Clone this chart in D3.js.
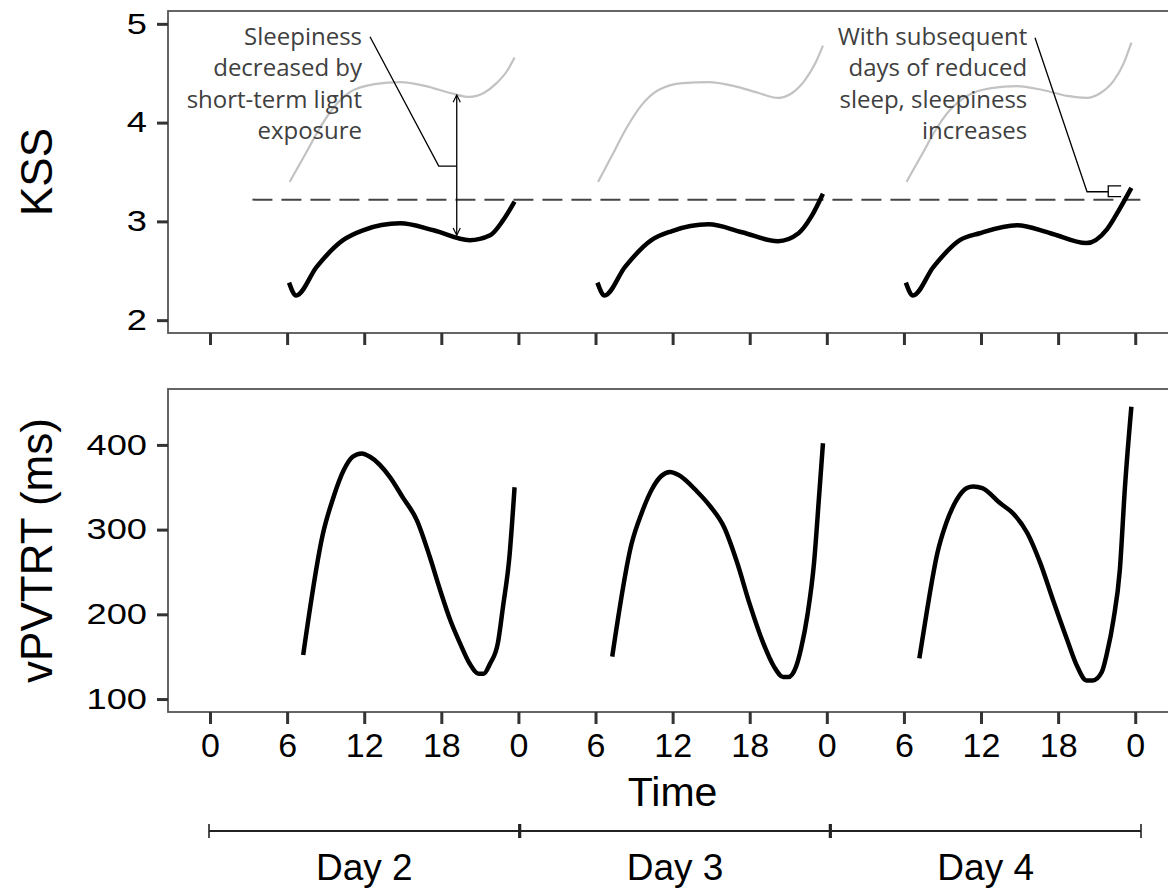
<!DOCTYPE html>
<html>
<head>
<meta charset="utf-8">
<script src="https://cdn.jsdelivr.net/npm/d3@7"></script>
<style>
  body { margin: 0; background: #fff; }
  svg { display: block; }
</style>
</head>
<body>
<div id="chart"></div>
<script>
var w = 1168;
var h = 888;

// x ticks (hours since start of day 2) and their labels
var hourTicks = [0, 6, 12, 18, 24, 30, 36, 42, 48, 54, 60, 66, 72];
var hourTickLabels = ["0", "6", "12", "18", "0", "6", "12", "18", "0", "6", "12", "18", "0"];
var days = ["Day 2", "Day 3", "Day 4"];
var kssTicks = [2, 3, 4, 5];
var pvtTicks = [100, 200, 300, 400];

// KSS, reduced sleep (black), hour of day
var kssHours = [6.15, 6.7, 8.3, 10.35, 11.9, 14.8, 17.4, 20.2, 21.8, 22.8, 23.7];
var kssDay2 = [2.38, 2.25, 2.54, 2.81, 2.91, 2.98, 2.91, 2.81, 2.86, 3.01, 3.20];
var kssDay3 = [2.38, 2.25, 2.54, 2.81, 2.90, 2.97, 2.89, 2.80, 2.88, 3.05, 3.28];
var kssDay4 = [2.38, 2.25, 2.54, 2.81, 2.88, 2.96, 2.88, 2.78, 2.92, 3.13, 3.34];

// KSS with short-term light exposure (grey)
var lightHours = [6.2, 7.5, 8.3, 9.6, 10.9, 12.8, 14.8, 16.8, 18.7, 20.2, 21.3, 22.3, 23.1, 23.7];
var lightDay2 = [3.40, 3.70, 3.89, 4.15, 4.31, 4.39, 4.41, 4.37, 4.30, 4.26, 4.30, 4.40, 4.52, 4.66];
var lightDay3 = [3.40, 3.72, 3.92, 4.18, 4.33, 4.40, 4.41, 4.37, 4.30, 4.25, 4.30, 4.43, 4.60, 4.78];
var lightDay4 = [3.40, 3.70, 3.89, 4.13, 4.27, 4.35, 4.37, 4.33, 4.27, 4.25, 4.30, 4.42, 4.60, 4.81];

var kssBaseline = 3.22;

// vPVTRT (ms), hour of day
var pvtHours2 = [7.25, 8.8, 9.6, 10.4, 11.1, 11.8, 12.45, 14.0, 15.0, 16.1, 17.1, 17.9, 18.7, 19.45, 20.2, 20.9, 21.3, 21.8, 22.4, 22.8, 23.3, 23.7];
var pvtDay2 = [152, 296, 338, 370, 386, 390, 386, 362, 338, 311, 268, 229, 193, 166, 142, 130, 130, 142, 166, 209, 268, 350];
var pvtHours3 = [7.3, 8.8, 9.6, 10.4, 11.1, 11.8, 12.4, 13.9, 14.9, 16.0, 17.0, 18.0, 19.0, 19.9, 20.6, 21.0, 21.6, 22.0, 22.5, 23.0, 23.4, 23.7];
var pvtDay3 = [150, 283, 320, 348, 363, 368, 365, 345, 328, 303, 262, 212, 168, 138, 126, 126, 138, 160, 200, 260, 340, 402];
var pvtHours4 = [7.2, 7.8, 8.6, 9.3, 10.1, 10.9, 11.4, 12.1, 13.5, 14.5, 15.6, 16.6, 17.6, 18.7, 19.5, 20.2, 20.7, 21.4, 21.8, 22.3, 22.8, 23.2, 23.7];
var pvtDay4 = [148, 205, 272, 308, 335, 349, 351, 349, 331, 319, 296, 261, 217, 170, 138, 122, 122, 132, 154, 193, 252, 350, 445];

// annotations
var note1 = ["Sleepiness", "decreased by", "short-term light", "exposure"];
var note2 = ["With subsequent", "days of reduced", "sleep, sleepiness", "increases"];

function toPoints(hours, vals, day) {
    return hours.map(function(d, i) { return [d + day * 24, vals[i]]; });
}

var svg = d3.select("#chart")
            .append("svg")
            .attr("width", w)
            .attr("height", h);

// scales
var xScale = d3.scaleLinear().domain([-3.27, 75.64]).range([168, 1182]);
var yKss = d3.scaleLinear().domain([1.87, 5.13]).range([333, 11]);
var yPvt = d3.scaleLinear().domain([84.7, 466]).range([712, 389]);
var dayScale = d3.scaleLinear().domain([0, 72]).range([209, 1141]);

var axisFont = "'Liberation Sans', Arial, sans-serif";
var noteFont = "'Open Sans', 'Noto Sans', sans-serif";

function panel(y) {
    svg.append("rect")
        .attr("x", xScale.range()[0])
        .attr("y", y.range()[1])
        .attr("width", xScale.range()[1] - xScale.range()[0])
        .attr("height", y.range()[0] - y.range()[1])
        .attr("fill", "none")
        .attr("stroke", "#555")
        .attr("stroke-width", 1.8);
}

function styleAxis(g) {
    g.select(".domain").remove();
    g.selectAll(".tick line").attr("stroke", "#333").attr("stroke-width", 3);
}

// ---------- top panel: KSS ----------
var kssLines = [kssDay2, kssDay3, kssDay4];
var lightLines = [lightDay2, lightDay3, lightDay4];

var lineK = d3.line()
    .x(function(d) { return xScale(d[0]); })
    .y(function(d) { return yKss(d[1]); })
    .curve(d3.curveMonotoneX);

svg.append("line")
    .attr("x1", xScale(3.3)).attr("x2", xScale(72.4))
    .attr("y1", yKss(kssBaseline)).attr("y2", yKss(kssBaseline))
    .attr("stroke", "#444").attr("stroke-width", 2)
    .attr("stroke-dasharray", "20,9");

svg.selectAll("path.light")
    .data(lightLines)
    .enter()
    .append("path")
    .attr("class", "light")
    .attr("d", function(d, i) { return lineK(toPoints(lightHours, d, i)); })
    .attr("fill", "none")
    .attr("stroke", "#c2c2c2")
    .attr("stroke-width", 2.2);

svg.selectAll("path.kss")
    .data(kssLines)
    .enter()
    .append("path")
    .attr("class", "kss")
    .attr("d", function(d, i) { return lineK(toPoints(kssHours, d, i)); })
    .attr("fill", "none")
    .attr("stroke", "#000")
    .attr("stroke-width", 4.5)
    .attr("stroke-linejoin", "round");

panel(yKss);

var yAxisK = d3.axisLeft(yKss).tickValues(kssTicks).tickFormat(d3.format("d")).tickSize(11).tickPadding(10);
svg.append("g").attr("class", "yaxis").attr("transform", "translate(168,0)").call(yAxisK).call(styleAxis);

var xAxisTop = d3.axisBottom(xScale).tickValues(hourTicks).tickSize(12).tickFormat("");
svg.append("g").attr("transform", "translate(0,333)").call(xAxisTop).call(styleAxis);

// annotation 1: arrow and leader
svg.append("defs").append("marker")
    .attr("id", "chev")
    .attr("viewBox", "0 0 10 10")
    .attr("refX", 9).attr("refY", 5)
    .attr("markerWidth", 9).attr("markerHeight", 9)
    .attr("markerUnits", "userSpaceOnUse")
    .attr("orient", "auto-start-reverse")
    .append("path")
    .attr("d", "M1,1 L9,5 L1,9")
    .attr("fill", "none")
    .attr("stroke", "#000")
    .attr("stroke-width", 1.3);

svg.append("line")
    .attr("x1", xScale(19.2)).attr("x2", xScale(19.2))
    .attr("y1", yKss(4.28)).attr("y2", yKss(2.86))
    .attr("stroke", "#000").attr("stroke-width", 1.3)
    .attr("marker-start", "url(#chev)")
    .attr("marker-end", "url(#chev)");

var leader = d3.line()
    .x(function(d) { return xScale(d[0]); })
    .y(function(d) { return yKss(d[1]); });

svg.append("path")
    .attr("d", leader([[12.45, 4.87], [17.8, 3.56], [19.2, 3.56]]))
    .attr("fill", "none").attr("stroke", "#000").attr("stroke-width", 1.3);

svg.append("path")
    .attr("d", leader([[64.2, 4.86], [68.25, 3.30], [69.9, 3.30]]))
    .attr("fill", "none").attr("stroke", "#000").attr("stroke-width", 1.3);

svg.append("path")
    .attr("d", leader([[70.9, 3.36], [69.9, 3.36], [69.9, 3.25], [70.9, 3.25]]))
    .attr("fill", "none").attr("stroke", "#000").attr("stroke-width", 1.3);

function note(lines, hour) {
    var t = svg.append("text")
        .attr("x", xScale(hour))
        .attr("y", yKss(4.79))
        .attr("text-anchor", "end")
        .attr("font-family", noteFont)
        .attr("font-size", "24px")
        .attr("fill", "#404040");
    t.selectAll("tspan")
        .data(lines)
        .enter()
        .append("tspan")
        .attr("x", xScale(hour))
        .attr("dy", function(d, i) { return i == 0 ? 0 : 31.5; })
        .text(function(d) { return d; });
}
note(note1, 11.83);
note(note2, 63.6);

// ---------- bottom panel: vPVTRT ----------
var lineP = d3.line()
    .x(function(d) { return xScale(d[0]); })
    .y(function(d) { return yPvt(d[1]); })
    .curve(d3.curveMonotoneX);

var pvtSeries = [[pvtHours2, pvtDay2], [pvtHours3, pvtDay3], [pvtHours4, pvtDay4]];

svg.selectAll("path.pvt")
    .data(pvtSeries)
    .enter()
    .append("path")
    .attr("class", "pvt")
    .attr("d", function(d, i) { return lineP(toPoints(d[0], d[1], i)); })
    .attr("fill", "none")
    .attr("stroke", "#000")
    .attr("stroke-width", 4.5)
    .attr("stroke-linejoin", "round");

panel(yPvt);

var yAxisP = d3.axisLeft(yPvt).tickValues(pvtTicks).tickSize(11).tickPadding(10);
svg.append("g").attr("class", "yaxis").attr("transform", "translate(168,0)").call(yAxisP).call(styleAxis);

var xAxisBottom = d3.axisBottom(xScale).tickValues(hourTicks).tickSize(12).tickPadding(9)
    .tickFormat(function(d, i) { return hourTickLabels[i]; });
svg.append("g").attr("transform", "translate(0,712)").call(xAxisBottom).call(styleAxis)
    .selectAll("text")
    .attr("font-family", axisFont)
    .attr("font-size", "34px")
    .attr("fill", "#000");

// y tick labels are drawn a little wider than normal
svg.selectAll("g.yaxis .tick text")
    .attr("font-family", axisFont)
    .attr("font-size", "29px")
    .attr("fill", "#000")
    .attr("x", 0)
    .attr("transform", "translate(-21,0) scale(1.25,1)");

// axis titles
svg.append("text")
    .attr("transform", "translate(52," + ((yKss.range()[0] + yKss.range()[1]) / 2) + ") rotate(-90)")
    .attr("text-anchor", "middle")
    .attr("font-family", axisFont)
    .attr("font-size", "44px")
    .text("KSS");

svg.append("text")
    .attr("transform", "translate(52," + ((yPvt.range()[0] + yPvt.range()[1]) / 2) + ") rotate(-90)")
    .attr("text-anchor", "middle")
    .attr("font-family", axisFont)
    .attr("font-size", "44px")
    .text("vPVTRT (ms)");

svg.append("text")
    .attr("x", xScale(36))
    .attr("y", 806)
    .attr("text-anchor", "middle")
    .attr("font-family", axisFont)
    .attr("font-size", "41px")
    .text("Time");

// day bracket
var bracket = svg.append("g");
bracket.append("line")
    .attr("x1", dayScale(0)).attr("x2", dayScale(72))
    .attr("y1", 831).attr("y2", 831)
    .attr("stroke", "#222").attr("stroke-width", 2.2);

bracket.selectAll("line.end")
    .data([0, 24, 48, 72])
    .enter()
    .append("line")
    .attr("class", "end")
    .attr("x1", function(d) { return dayScale(d); })
    .attr("x2", function(d) { return dayScale(d); })
    .attr("y1", 824).attr("y2", 838)
    .attr("stroke", "#222")
    .attr("stroke-width", function(d) { return (d == 0 || d == 72) ? 1.6 : 3.2; });

bracket.selectAll("text")
    .data(days)
    .enter()
    .append("text")
    .attr("x", function(d, i) { return dayScale(i * 24 + 12); })
    .attr("y", 880)
    .attr("text-anchor", "middle")
    .attr("font-family", axisFont)
    .attr("font-size", "37px")
    .text(function(d) { return d; });
</script>
</body>
</html>
